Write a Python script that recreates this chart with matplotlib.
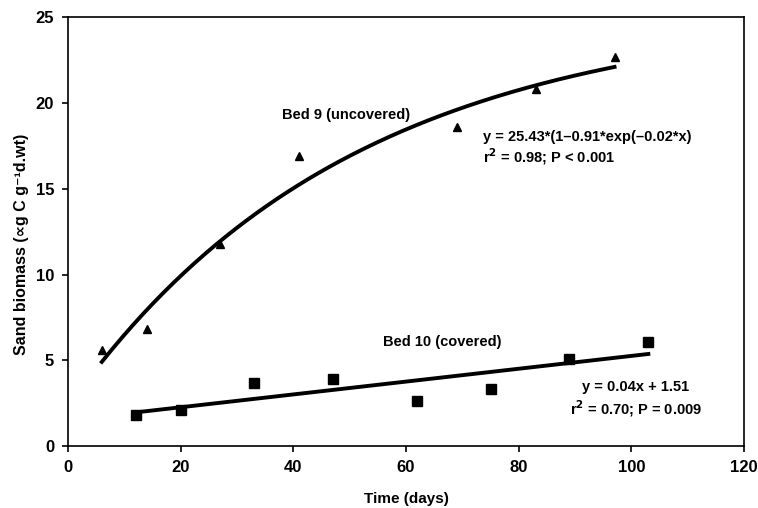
import numpy as np
import matplotlib.pyplot as plt

plt.rcParams['font.family'] = ['Liberation Sans', 'DejaVu Sans']

# Bed 9 (uncovered), triangles
bed9_days = [6, 14, 27, 41, 69, 83, 97]
bed9_biomass = [5.6, 6.8, 11.8, 16.9, 18.6, 20.8, 22.7]

# Bed 10 (covered), squares
bed10_days = [12, 20, 33, 47, 62, 75, 89, 103]
bed10_biomass = [1.8, 2.1, 3.7, 3.9, 2.6, 3.35, 5.1, 6.05]

# fitted exponential rise, coefficients from the chart
a, b, k = 25.43, 0.91, 0.02


def main():
    fig = plt.figure(figsize=(7.58, 5.08), dpi=100)
    ax = fig.add_axes([0.0897, 0.122, 0.892, 0.844])

    ax.plot(bed9_days, bed9_biomass, '^', color='black', markersize=6)
    ax.plot(bed10_days, bed10_biomass, 's', color='black', markersize=6.5)

    xc = np.linspace(min(bed9_days), max(bed9_days), 200)
    ax.plot(xc, a * (1 - b * np.exp(-k * xc)), color='black', lw=2.8)

    slope, icept = np.polyfit(bed10_days, bed10_biomass, 1)
    xl = np.array([min(bed10_days), max(bed10_days)])
    ax.plot(xl, slope * xl + icept, color='black', lw=2.8)

    fs = 10.5
    ax.text(38, 19.3, 'Bed 9 (uncovered)', fontsize=fs, fontweight='bold', va='center')
    ax.text(55.9, 6.05, 'Bed 10 (covered)', fontsize=fs, fontweight='bold', va='center')
    ax.text(73.7, 18.0, 'y = 25.43*(1\u20130.91*exp(\u20130.02*x)', fontsize=fs,
            fontweight='bold', va='center')
    ax.text(73.7, 16.85, r'r$^\mathbf{2}$ = 0.98; P < 0.001', fontsize=fs,
            fontweight='bold', va='center')
    ax.text(100.8, 3.42, 'y = 0.04x + 1.51', fontsize=fs, fontweight='bold',
            va='center', ha='center')
    ax.text(100.8, 2.2, r'r$^\mathbf{2}$ = 0.70; P = 0.009', fontsize=fs,
            fontweight='bold', va='center', ha='center')

    ax.set_xlim(0, 120)
    ax.set_ylim(0, 25)
    ax.set_xticks(range(0, 121, 20))
    ax.set_yticks(range(0, 26, 5))
    ax.tick_params(direction='out', length=4, width=1.2, labelsize=12, pad=6)
    for lab in ax.get_xticklabels() + ax.get_yticklabels():
        lab.set_fontweight('bold')
    for s in ax.spines.values():
        s.set_linewidth(1.2)

    ax.set_xlabel('Time (days)', fontsize=11, fontweight='bold', labelpad=12)
    ax.set_ylabel('Sand biomass (\u221dg C g\u207b\u00b9d.wt)', fontsize=11.5,
                  fontweight='bold')
    ax.yaxis.set_label_coords(-0.057, 0.471)

    fig.savefig('out.png', dpi=100)


if __name__ == "__main__":
    main()
